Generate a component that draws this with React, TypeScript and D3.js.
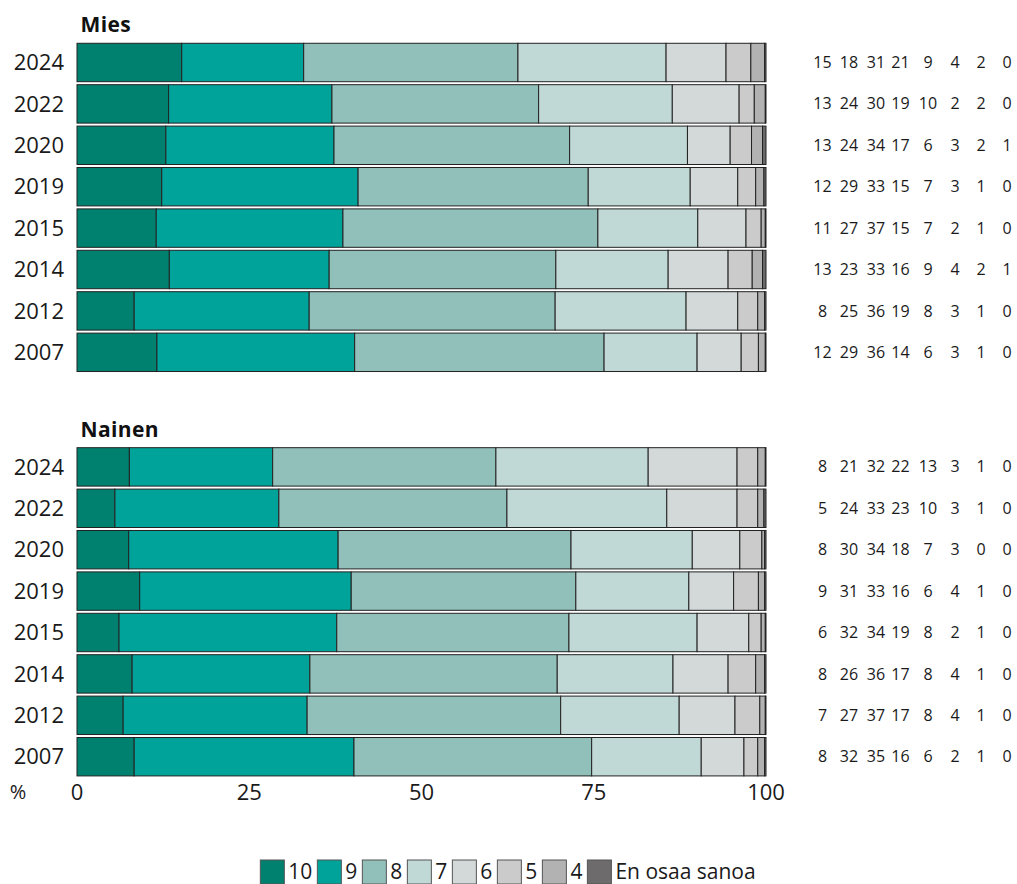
import React from "react";
import * as d3 from "d3";

const years = ["2024", "2022", "2020", "2019", "2015", "2014", "2012", "2007"];
const categories = ["10", "9", "8", "7", "6", "5", "4", "En osaa sanoa"];
const colors = ["#00806f", "#00a39a", "#91bfb9", "#c1d9d6", "#d3d9d9", "#cbcbcb", "#b2b2b2", "#6d6b6b"];

// Estimated shares (%) per year, in category order
const miesValues = [
  [15.2, 17.7, 31.1, 21.5, 8.7, 3.6, 2.0, 0.2],
  [13.3, 23.7, 30.0, 19.4, 9.7, 2.2, 1.6, 0.1],
  [12.9, 24.4, 34.2, 17.1, 6.2, 3.1, 1.6, 0.5],
  [12.3, 28.5, 33.4, 14.8, 6.9, 2.6, 1.2, 0.3],
  [11.5, 27.1, 37.0, 14.5, 7.0, 2.2, 0.6, 0.1],
  [13.4, 23.2, 32.9, 16.3, 8.7, 3.5, 1.5, 0.5],
  [8.3, 25.4, 35.7, 19.0, 7.5, 2.9, 1.0, 0.2],
  [11.6, 28.7, 36.2, 13.5, 6.4, 2.5, 1.0, 0.1],
];
const nainenValues = [
  [7.6, 20.8, 32.4, 22.1, 12.9, 3.0, 1.1, 0.1],
  [5.5, 23.8, 33.1, 23.2, 10.2, 3.0, 0.9, 0.3],
  [7.5, 30.4, 33.8, 17.6, 6.9, 3.2, 0.4, 0.2],
  [9.1, 30.7, 32.6, 16.4, 6.5, 3.6, 0.9, 0.2],
  [6.1, 31.6, 33.7, 18.6, 7.5, 1.8, 0.6, 0.1],
  [8.0, 25.8, 35.9, 16.8, 8.0, 4.0, 1.3, 0.2],
  [6.7, 26.7, 36.8, 17.2, 8.1, 3.6, 0.8, 0.1],
  [8.3, 31.9, 34.5, 15.9, 6.2, 2.0, 1.0, 0.2],
];
// Rounded labels shown on the right
const miesLabels = [
  [15, 18, 31, 21, 9, 4, 2, 0],
  [13, 24, 30, 19, 10, 2, 2, 0],
  [13, 24, 34, 17, 6, 3, 2, 1],
  [12, 29, 33, 15, 7, 3, 1, 0],
  [11, 27, 37, 15, 7, 2, 1, 0],
  [13, 23, 33, 16, 9, 4, 2, 1],
  [8, 25, 36, 19, 8, 3, 1, 0],
  [12, 29, 36, 14, 6, 3, 1, 0],
];
const nainenLabels = [
  [8, 21, 32, 22, 13, 3, 1, 0],
  [5, 24, 33, 23, 10, 3, 1, 0],
  [8, 30, 34, 18, 7, 3, 0, 0],
  [9, 31, 33, 16, 6, 4, 1, 0],
  [6, 32, 34, 19, 8, 2, 1, 0],
  [8, 26, 36, 17, 8, 4, 1, 0],
  [7, 27, 37, 17, 8, 4, 1, 0],
  [8, 32, 35, 16, 6, 2, 1, 0],
];
const xTicks = [0, 25, 50, 75, 100];
const labelColumns = [822.5, 849, 876, 900.5, 928, 955, 981, 1007];

const FONT = "'Open Sans', 'Noto Sans', sans-serif";
const W = 1017;
const H = 884;

const x = d3.scaleLinear().domain([0, 100]).range([77, 766]);

function measure(text: string, font: string): number {
  const c = document.createElement("canvas");
  const ctx = c.getContext("2d");
  if (!ctx) return text.length * 10;
  ctx.font = font;
  return ctx.measureText(text).width;
}

function Panel({ title, values, labels, y0, y1 }: { title: string; values: number[][]; labels: number[][]; y0: number; y1: number }) {
  const y = d3.scaleBand<string>().domain(years).range([y0, y1]).padding(0.072);
  const rows = values.map((row) => {
    const ends = d3.cumsum(row);
    return row.map((v, i) => ({ start: ends[i] - v, end: ends[i], i }));
  });
  return (
    <g>
      <text x={80.5} y={y0 - 8} fontFamily={FONT} fontWeight="bold" fontSize={21} fill="#111" letterSpacing={0.4}>
        {title}
      </text>
      {years.map((yr, r) => {
        const by = y(yr)!;
        const bh = y.bandwidth();
        const cy = by + bh / 2;
        return (
          <g key={yr}>
            <text x={64} y={cy} dy="0.35em" textAnchor="end" fontFamily={FONT} fontSize={22} fill="#1a1a1a">
              {yr}
            </text>
            {rows[r].map((s) => (
              <rect
                key={s.i}
                x={x(s.start)}
                y={by}
                width={Math.max(0, x(s.end) - x(s.start))}
                height={bh}
                fill={colors[s.i]}
                stroke="#222"
                strokeWidth={1}
              />
            ))}
            {labels[r].map((v, i) => (
              <text key={i} x={labelColumns[i]} y={cy} dy="0.35em" textAnchor="middle" fontFamily={FONT} fontSize={16} fill="#1a1a1a">
                {v}
              </text>
            ))}
          </g>
        );
      })}
    </g>
  );
}

function Legend() {
  const font = `21px ${FONT}`;
  const box = 24;
  const gap = 4;
  const pad = 5;
  const items = categories.map((c, i) => ({ c, i, w: measure(c, font) }));
  const total = items.reduce((a, it) => a + box + gap + it.w + pad, 0) - pad;
  let cx = 508 - total / 2;
  const placed = items.map((it) => {
    const p = { ...it, x: cx };
    cx += box + gap + it.w + pad;
    return p;
  });
  return (
    <g>
      {placed.map((p) => (
        <g key={p.c}>
          <rect x={p.x} y={860} width={box} height={box} fill={colors[p.i]} stroke="#555" strokeWidth={1} />
          <text x={p.x + box + gap} y={872} dy="0.35em" fontFamily={FONT} fontSize={21} fill="#1a1a1a">
            {p.c}
          </text>
        </g>
      ))}
    </g>
  );
}

export default function App() {
  return (
    <svg width={W} height={H} style={{ position: "absolute", left: 0, top: 0, display: "block", background: "#fff" }}>
      <rect x={0} y={0} width={W} height={H} fill="#fff" />
      <Panel title="Mies" values={miesValues} labels={miesLabels} y0={40.3} y1={374.5} />
      <Panel title="Nainen" values={nainenValues} labels={nainenLabels} y0={444.7} y1={778.9} />
      {xTicks.map((t) => (
        <text key={t} x={x(t)} y={792} dy="0.35em" textAnchor="middle" fontFamily={FONT} fontSize={22} fill="#1a1a1a">
          {t}
        </text>
      ))}
      <text x={18} y={792} dy="0.35em" textAnchor="middle" fontFamily={FONT} fontSize={20} fill="#1a1a1a">
        %
      </text>
      <Legend />
    </svg>
  );
}
